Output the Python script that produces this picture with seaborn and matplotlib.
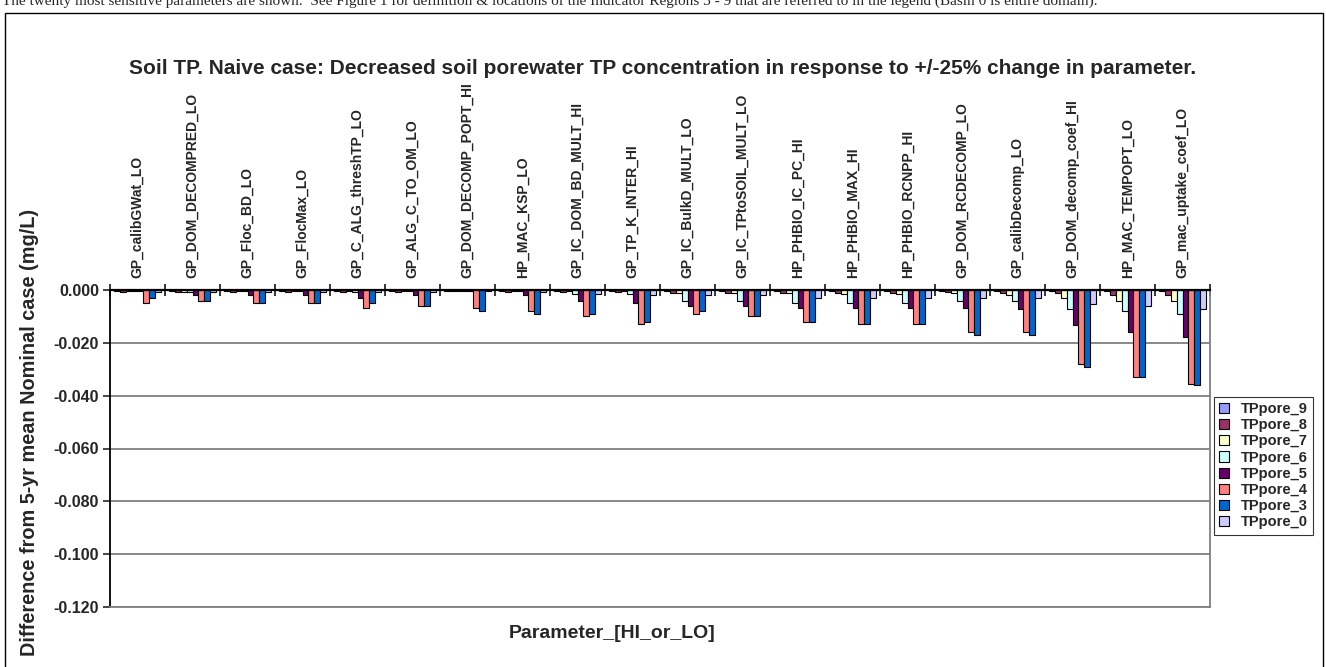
import numpy as np
import pandas as pd
import seaborn as sns
import matplotlib
matplotlib.use("Agg")
from matplotlib import pyplot as plt
from matplotlib.patches import Rectangle

params = ["GP_calibGWat_LO", "GP_DOM_DECOMPRED_LO", "GP_Floc_BD_LO", "GP_FlocMax_LO",
          "GP_C_ALG_threshTP_LO", "GP_ALG_C_TO_OM_LO", "GP_DOM_DECOMP_POPT_HI", "HP_MAC_KSP_LO",
          "GP_IC_DOM_BD_MULT_HI", "GP_TP_K_INTER_HI", "GP_IC_BulkD_MULT_LO", "GP_IC_TPtoSOIL_MULT_LO",
          "HP_PHBIO_IC_PC_HI", "HP_PHBIO_MAX_HI", "HP_PHBIO_RCNPP_HI", "GP_DOM_RCDECOMP_LO",
          "GP_calibDecomp_LO", "GP_DOM_decomp_coef_HI", "HP_MAC_TEMPOPT_LO", "GP_mac_uptake_coef_LO"]

tppore_9 = [-0.0003, -0.0005, -0.0005, -0.0005, -0.0005, -0.0005, -0.0003, -0.0005, -0.0005, -0.0005,
            -0.0005, -0.0005, -0.0005, -0.0005, -0.0005, -0.0005, -0.0005, -0.0005, -0.0005, -0.0005]
tppore_8 = [-0.0008, -0.0008, -0.0008, -0.0008, -0.0008, -0.0008, -0.0005, -0.0008, -0.0008, -0.0008,
            -0.0012, -0.0012, -0.0012, -0.0012, -0.0012, -0.0008, -0.0012, -0.0012, -0.0018, -0.0020]
tppore_7 = [-0.0002, -0.0008, -0.0003, -0.0003, -0.0005, -0.0003, -0.0002, -0.0003, -0.0005, -0.0005,
            -0.0012, -0.0012, -0.0012, -0.0015, -0.0015, -0.0012, -0.0018, -0.0030, -0.0040, -0.0042]
tppore_6 = [-0.0003, -0.0008, -0.0003, -0.0003, -0.0008, -0.0003, -0.0003, -0.0005, -0.0015, -0.0015,
            -0.0040, -0.0040, -0.0050, -0.0050, -0.0050, -0.0040, -0.0040, -0.0072, -0.0079, -0.0090]
tppore_5 = [-0.0003, -0.0020, -0.0020, -0.0020, -0.0030, -0.0020, -0.0005, -0.0020, -0.0040, -0.0050,
            -0.0060, -0.0060, -0.0070, -0.0070, -0.0070, -0.0070, -0.0072, -0.0131, -0.0158, -0.0177]
tppore_4 = [-0.0050, -0.0043, -0.0050, -0.0050, -0.0070, -0.0060, -0.0070, -0.0080, -0.0100, -0.0130,
            -0.0090, -0.0100, -0.0120, -0.0130, -0.0130, -0.0160, -0.0160, -0.0282, -0.0328, -0.0357]
tppore_3 = [-0.0030, -0.0043, -0.0050, -0.0050, -0.0050, -0.0060, -0.0080, -0.0090, -0.0090, -0.0120,
            -0.0080, -0.0100, -0.0120, -0.0130, -0.0130, -0.0170, -0.0170, -0.0290, -0.0330, -0.0360]
tppore_0 = [-0.0006, -0.0008, -0.0008, -0.0008, -0.0008, -0.0008, -0.0005, -0.0008, -0.0015, -0.0020,
            -0.0020, -0.0020, -0.0030, -0.0030, -0.0030, -0.0030, -0.0030, -0.0053, -0.0060, -0.0072]

series_names = ["TPpore_9", "TPpore_8", "TPpore_7", "TPpore_6", "TPpore_5", "TPpore_4", "TPpore_3", "TPpore_0"]
series_vals = [tppore_9, tppore_8, tppore_7, tppore_6, tppore_5, tppore_4, tppore_3, tppore_0]
colors = ["#9999FF", "#993366", "#FFFFCC", "#CCFFFF", "#660066", "#FF8080", "#0066CC", "#CCCCFF"]

df = pd.DataFrame([(p, s, v) for s, vals in zip(series_names, series_vals) for p, v in zip(params, vals)],
                  columns=["param", "series", "value"])

sns.set_style("white")
plt.rcParams["font.family"] = ["Liberation Sans", "DejaVu Sans"]
plt.rcParams["axes.unicode_minus"] = False

W, H = 1326, 667
fig = plt.figure(figsize=(W / 100, H / 100), dpi=100)
ax = fig.add_axes([110 / W, 60 / H, 1100 / W, 317 / H])

sns.barplot(data=df, x="param", y="value", hue="series", order=params, hue_order=series_names,
            palette=colors, width=0.86, edgecolor="black", linewidth=0.8, ax=ax, saturation=1)

ax.set_ylim(-0.12, 0)
ax.set_xlim(-0.5, len(params) - 0.5)
ax.set_yticks(np.arange(-0.12, 0.001, 0.02))
ax.yaxis.set_major_formatter(matplotlib.ticker.FuncFormatter(lambda v, p: f"{v:.3f}"))
ax.yaxis.grid(True, color="#808080", linewidth=1.3)
ax.set_axisbelow(True)

# category labels on top of the zero line
ax.xaxis.tick_top()
ax.set_xticks(range(len(params)))
ax.set_xticklabels(params, rotation=90, fontsize=10, fontweight="bold")
ax.set_xticks(np.arange(-0.5, len(params), 1), minor=True)
ax.tick_params(axis="x", which="major", length=0, pad=9)
ax.tick_params(axis="x", which="minor", top=True, bottom=False, direction="inout", length=8, width=1.3)
ax.tick_params(axis="y", direction="out", length=5, width=1.2, labelsize=11.5, left=True, pad=3)
for t in ax.get_yticklabels():
    t.set_fontweight("bold")

ax.spines["top"].set_color("black")
ax.spines["top"].set_linewidth(1.6)
ax.spines["top"].set_zorder(5)
ax.spines["left"].set_color("black")
ax.spines["left"].set_linewidth(1.3)
ax.spines["right"].set_color("#808080")
ax.spines["right"].set_linewidth(1.3)
ax.spines["bottom"].set_color("#808080")
ax.spines["bottom"].set_linewidth(1.3)

ax.set_xlabel("")
ax.set_ylabel("")
fig.text(30 / W, 1 - 432 / H, "Difference from 5-yr mean Nominal case (mg/L)", rotation=90,
         ha="center", va="center", fontsize=14.3, fontweight="bold")
fig.text(612 / W, 1 - 633 / H, "Parameter_[HI_or_LO]", ha="center", va="center",
         fontsize=14, fontweight="bold")
fig.text(663 / W, 1 - 68 / H,
         "Soil TP. Naive case: Decreased soil porewater TP concentration in response to +/-25% change in parameter.",
         ha="center", va="center", fontsize=15, fontweight="bold")
fig.text(2 / W, 1 - 1 / H,
         "The twenty most sensitive parameters are shown.  See Figure 1 for definition & locations of the Indicator "
         "Regions 3 - 9 that are referred to in the legend (Basin 0 is entire domain).",
         ha="left", va="center", fontsize=11, family=["Liberation Serif", "DejaVu Serif"])

# outer chart frame
fig.patches.append(Rectangle((5 / W, -0.01), 1318 / W, 1 - 13 / H + 0.01, transform=fig.transFigure,
                             fill=False, edgecolor="black", linewidth=1.0))

handles, labels = ax.get_legend_handles_labels()
ax.get_legend().remove()
leg = fig.legend(handles, labels, loc="upper left", bbox_to_anchor=(1214 / W, 1 - 397 / H),
                 frameon=True, fancybox=False, edgecolor="black", handlelength=0.7, handleheight=0.7,
                 handletextpad=0.8, borderpad=0.35, labelspacing=0.15, borderaxespad=0,
                 prop={"size": 10.5, "weight": "bold"})
leg.get_frame().set_linewidth(0.8)

fig.savefig("out.png", dpi=100)
